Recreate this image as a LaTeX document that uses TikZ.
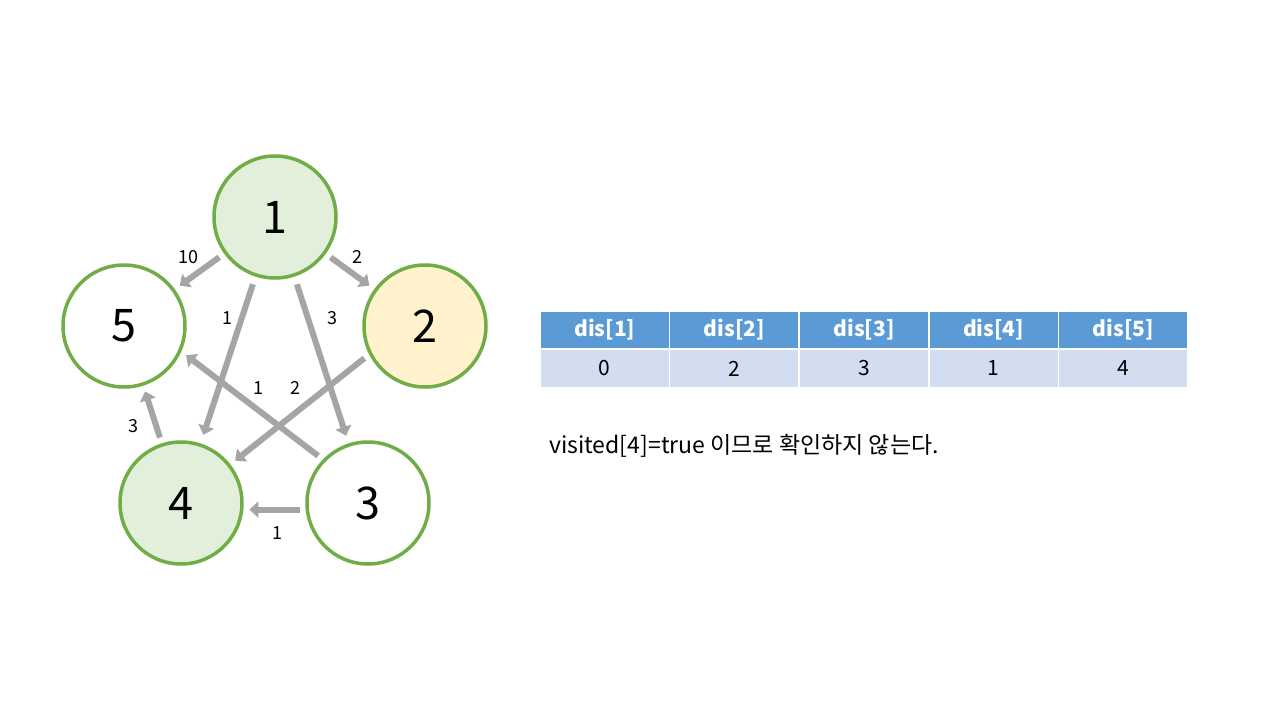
\documentclass[tikz,border=0pt]{standalone}
\usepackage{fontspec}
\setmainfont{Noto Sans CJK KR}
\usetikzlibrary{arrows.meta,positioning}
\definecolor{grGreen}{HTML}{70AD47}
\definecolor{grFillGreen}{HTML}{E2EFDA}
\definecolor{grFillYellow}{HTML}{FFF2CC}
\definecolor{grArrow}{HTML}{A5A5A5}
\definecolor{tbHead}{HTML}{5B9BD5}
\definecolor{tbRow}{HTML}{D2DEEF}
\newcommand{\fsz}[1]{\fontsize{#1}{#1}\selectfont}
\tikzset{
  vtx/.style={circle,draw=grGreen,line width=3.5pt,minimum size=122pt,inner sep=0pt,font=\fsz{45}},
  wedge/.style={draw=grArrow,line width=6pt,-{Triangle[width=16pt,length=9pt]},shorten <=6pt,shorten >=6pt},
  wlabel/.style={inner sep=0pt,font=\fsz{18}},
  headcell/.style={fill=tbHead,draw=white,line width=1.5pt,text=white,minimum width=129.6pt,minimum height=38pt,inner sep=0pt,font=\fsz{21}\bfseries},
  valcell/.style={fill=tbRow,draw=white,line width=1.5pt,minimum width=129.6pt,minimum height=38pt,inner sep=0pt,font=\fsz{21}}
}
\begin{document}
\begin{tikzpicture}[x=1pt,y=-1pt]
  \useasboundingbox[fill=white] (0,0) rectangle (1280,720);
  % vertices
  \node[vtx,fill=grFillGreen] (n1) at (275,217) {1};
  \node[vtx,fill=grFillYellow] (n2) at (425,326) {2};
  \node[vtx,fill=white] (n3) at (368,503) {3};
  \node[vtx,fill=grFillGreen] (n4) at (181,503) {4};
  \node[vtx,fill=white] (n5) at (124,326) {5};
  % weighted edges
  \draw[wedge] (n1) -- (n5);
  \draw[wedge] (n1) -- (n2);
  \draw[wedge,shorten <=8pt,shorten >=9pt] (n1) -- (n4);
  \draw[wedge,shorten <=8pt,shorten >=8pt] (n1) -- (n3);
  \draw[wedge] (n3.136) -- (n5.336);
  \draw[wedge] (n2.207) -- (n4.38);
  \draw[wedge] (n4) -- (n5);
  \draw[wedge] (n3.186) -- (n4.354);
  \node[wlabel] (w15) at (188,257) {10};
  \node[wlabel] (w12) at (357,257) {2};
  \node[wlabel] (w14) at (227,318) {1};
  \node[wlabel] (w13) at (332,318) {3};
  \node[wlabel] (w35) at (258,388) {1};
  \node[wlabel] (w24) at (295,388) {2};
  \node[wlabel] (w45) at (133,426) {3};
  \node[wlabel] (w34) at (277,533) {1};
  % distance table
  \foreach \i/\v in {1/0,2/2,3/3,4/1,5/4}{
    \node[headcell] (h\i) at ({540+129.6*(\i-0.5)},330) {dis[\i]};
    \node[valcell] (v\i) at ({540+129.6*(\i-0.5)},368.5) {\v};
  }
  \node[anchor=west,inner sep=0pt,font=\fsz{23}] (note) at (549,446) {visited[4]=true 이므로 확인하지 않는다.};
\end{tikzpicture}
\end{document}
